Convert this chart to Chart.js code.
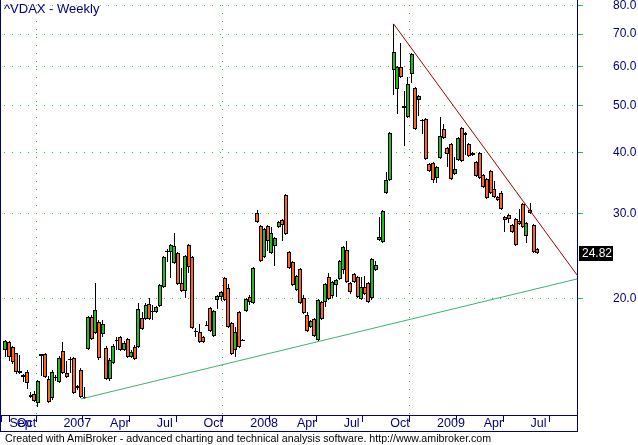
<!DOCTYPE html>
<html>
<head>
<meta charset="utf-8">
<script src="https://cdn.jsdelivr.net/npm/chart.js@4.4.1/dist/chart.umd.min.js"></script>
<style>
html,body{margin:0;padding:0;background:#fff;}
#wrap{position:relative;width:638px;height:445px;overflow:hidden;background:#fff;}
#c{position:absolute;left:0;top:0;}
#title{position:absolute;left:4px;top:1px;font-family:Arial,"Liberation Sans",sans-serif;font-size:13px;line-height:15px;color:#000080;white-space:nowrap;}
#footer{position:absolute;left:5px;top:432px;font-family:Arial,"Liberation Sans",sans-serif;font-size:10.65px;line-height:12px;color:#000;white-space:nowrap;}
</style>
</head>
<body>
<div id="wrap">
<canvas id="c" width="638" height="445"></canvas>
<div id="title">^VDAX - Weekly</div>
<div id="footer">Created with AmiBroker - advanced charting and technical analysis software. http://www.amibroker.com</div>
</div>
<script>
// ---- data (weekly bars, first bar = week ending 2006-09-22) ----
const firstWeek = '2006-09-22';
const openV = [15.72,16.31,15.94,15.49,14.20,13.93,14.16,12.70,12.76,12.22,15.30,15.41,13.70,12.52,13.83,13.51,15.64,14.10,15.00,15.13,
13.25,14.29,12.52,15.79,18.37,17.02,17.94,16.94,15.87,13.70,14.78,16.39,16.71,15.72,16.55,15.20,15.94,15.94,18.28,18.20,
19.54,18.85,18.80,19.36,21.17,25.05,24.98,23.72,24.86,21.57,20.80,25.83,24.40,17.22,17.10,16.71,17.72,19.16,16.78,19.91,
20.19,22.08,21.07,17.86,15.72,18.80,16.50,18.89,20.19,19.63,30.04,28.26,24.40,28.26,24.86,25.70,28.13,29.07,32.72,24.98,
23.82,20.87,23.05,20.10,18.54,17.52,18.20,16.47,19.72,19.72,22.19,20.29,21.37,21.98,22.95,25.22,21.57,22.52,22.19,20.00,
21.17,21.57,20.10,22.95,26.44,26.19,33.04,35.12,59.12,54.04,59.96,49.86,47.33,58.02,54.30,51.30,46.66,46.88,37.89,38.07,
35.46,38.98,44.72,40.87,41.65,36.14,38.62,44.93,43.47,41.65,39.52,38.25,39.90,35.96,35.29,36.65,33.66,32.41,33.02,29.49,
29.77,28.40,29.21,28.94,31.35,26.95,30.47,28.40,25.34];
const highV = [16.47,16.39,16.02,15.49,15.34,14.03,14.29,12.88,12.94,13.63,15.41,15.49,13.89,14.29,13.96,15.27,16.31,14.92,15.20,15.20,
13.32,14.43,13.19,18.46,18.50,21.57,18.11,18.11,16.02,15.13,16.16,16.71,16.78,16.39,16.63,15.72,16.09,19.63,18.80,19.63,
20.10,19.45,19.36,21.47,24.51,25.34,25.95,27.28,24.98,23.16,24.63,25.95,24.51,17.43,17.77,16.78,18.02,19.27,18.98,20.38,
20.78,22.19,21.47,17.94,17.52,18.89,16.55,20.10,20.38,23.28,30.47,28.40,28.00,28.40,28.13,26.82,28.95,29.21,32.87,25.10,
23.94,22.40,23.16,20.38,18.80,18.11,18.28,20.00,19.81,21.57,22.63,21.77,21.98,24.06,25.70,26.32,21.67,22.63,22.30,22.19,
22.30,21.67,24.28,23.94,29.48,30.47,36.48,44.09,73.51,60.25,67.18,53.53,57.20,64.07,54.55,52.53,46.88,47.11,38.07,38.25,
37.53,47.33,45.79,41.07,41.85,39.17,43.06,45.14,44.09,41.85,40.09,38.43,40.09,36.14,35.46,36.83,34.96,32.57,33.34,29.63,
29.91,28.53,29.35,30.62,31.50,28.81,31.50,28.53,25.46];
const lowV = [15.20,14.92,14.71,14.03,14.03,13.51,13.06,12.52,12.28,11.99,13.89,13.76,12.22,12.40,13.57,13.44,14.03,13.76,14.10,12.76,
13.00,12.52,12.46,15.72,16.47,16.94,14.99,16.71,13.63,13.57,14.71,15.72,15.64,15.64,15.13,15.13,14.99,15.87,17.27,18.11,
18.11,18.11,18.71,19.27,21.07,23.82,22.08,23.61,21.37,20.68,20.10,22.63,17.35,16.71,16.24,16.24,17.60,17.10,16.71,19.07,
19.81,19.81,17.43,15.34,15.20,15.87,16.39,18.80,19.45,19.54,28.67,23.82,24.28,25.10,24.75,23.39,27.99,26.32,27.08,23.05,
21.27,20.78,19.54,18.63,17.10,17.43,16.71,16.39,18.11,19.27,19.91,20.10,20.19,21.87,22.52,21.57,20.48,21.57,20.10,19.91,
20.38,19.63,19.91,22.84,26.32,26.07,32.87,34.96,52.53,48.00,56.93,41.26,47.11,55.60,44.51,47.55,43.68,38.62,36.48,34.63,
34.63,38.80,42.65,37.35,35.12,35.96,38.43,38.25,39.52,39.14,39.33,35.62,35.29,33.84,32.11,32.87,32.26,31.81,30.47,27.47,
28.67,27.34,25.70,28.40,27.99,26.07,29.91,24.86,24.70];
const closeV = [16.39,15.20,14.85,14.16,14.10,13.85,13.44,12.60,12.34,13.57,15.38,13.83,12.28,14.16,13.76,15.13,14.10,13.83,15.06,12.82,
13.13,12.58,12.58,18.37,16.55,18.98,15.13,17.77,13.70,14.99,16.02,16.47,15.72,16.24,15.20,15.57,15.06,19.07,17.35,19.45,
18.20,18.80,19.27,21.37,24.40,24.95,25.83,25.70,21.47,20.80,24.51,23.28,17.43,17.17,16.31,16.31,17.65,17.19,18.89,20.29,
20.68,19.91,17.52,15.41,17.10,15.94,16.45,20.00,19.72,23.16,28.81,23.94,27.86,26.32,27.34,26.70,28.81,28.40,27.21,23.16,
21.37,22.30,19.63,18.71,17.19,18.02,16.78,19.91,18.20,21.47,20.00,21.67,21.87,23.94,25.58,21.67,20.68,21.67,20.19,21.17,
20.48,19.72,24.17,23.50,26.82,30.33,35.12,43.88,64.37,59.96,57.20,49.39,55.34,63.77,44.72,52.28,46.44,38.80,36.65,35.12,
37.35,43.26,42.85,39.74,35.29,37.00,42.85,38.43,43.88,39.33,39.90,35.79,35.46,34.00,32.26,33.02,32.41,31.96,30.62,29.07,
29.21,27.47,25.83,28.53,28.13,28.67,30.04,24.98,24.82];
// trend lines: [bar index, value] anchors
const resistIdx = [108, 159.06];
const resistVal = [73.5, 22.4];
const supportIdx = [21, 159.06];
const supportVal = [12.46, 21.98];
// y axis
const yTicks = [20, 30, 40, 50, 60, 70, 80];
const yMin = 11.55, yMax = 82.26;
const monthNames = ['Jan','Feb','Mar','Apr','May','Jun','Jul','Aug','Sep','Oct','Nov','Dec'];

// ---- derived ----
const n = closeV.length;
const t0 = Date.parse(firstWeek + 'T00:00:00Z');
const dates = closeV.map((_, i) => new Date(t0 + i * 7 * 86400000));
const xTicks = [];
dates.forEach((d, i) => {
  const m = d.getUTCMonth();
  const prev = i > 0 ? dates[i - 1].getUTCMonth() : -1;
  if (i === 0 || (m !== prev && m % 3 === 0)) {
    xTicks.push({ i, label: m === 0 ? String(d.getUTCFullYear()) : monthNames[m], year: m === 0 && i > 0 });
  }
});
const tickByIdx = {};
xTicks.forEach(t => { tickByIdx[t.i] = t; });

const upColor = '#22bb22', downColor = '#ff6420';
const navy = '#000080';
const FONT = 'Arial, "Liberation Sans", sans-serif';

const wickData = closeV.map((c, i) => ({ x: i, y: [lowV[i], highV[i]] }));
const bodyData = closeV.map((c, i) => ({ x: i, y: [openV[i], c] }));
const bodyColors = closeV.map((c, i) => c >= openV[i] ? upColor : downColor);

// snap bar elements to whole pixels for crisp candles
const snapPlugin = {
  id: 'snap',
  beforeDatasetsDraw(chart) {
    chart.data.datasets.forEach((ds, di) => {
      const meta = chart.getDatasetMeta(di);
      if (meta.type !== 'bar') return;
      const even = Math.round(ds.barThickness) % 2 === 0;
      meta.data.forEach(el => {
        if (el._snapped) return;
        el.x = even ? Math.round(el.x) : Math.floor(el.x) + 0.5;
        const lo = Math.min(el.y, el.base), hi = Math.max(el.y, el.base);
        const t = Math.round(lo);
        const b = Math.max(Math.round(hi), t + 1);
        if (el.y <= el.base) { el.y = t; el.base = b; } else { el.y = b; el.base = t; }
        el._snapped = true;
      });
    });
  }
};

const framePlugin = {
  id: 'frame',
  afterDraw(chart) {
    const ctx = chart.ctx, a = chart.chartArea;
    ctx.save();
    ctx.fillStyle = navy;
    ctx.fillRect(0, 0, 1, 432);
    ctx.fillRect(0, a.bottom, a.right + 1, 1);
    ctx.fillRect(0, 431, a.right + 1, 1);
    ctx.fillRect(a.right, 0, 1, 432);
    const y = Math.round(chart.scales.y.getPixelForValue(closeV[n - 1]));
    ctx.fillStyle = '#000';
    ctx.fillRect(a.right + 2, y - 7, 34, 15);
    ctx.fillStyle = '#fff';
    ctx.font = '12px ' + FONT;
    ctx.textBaseline = 'middle';
    ctx.textAlign = 'left';
    ctx.fillText(closeV[n - 1].toFixed(2), a.right + 5, y + 1);
    ctx.restore();
  }
};

new Chart(document.getElementById('c'), {
  type: 'bar',
  data: {
    datasets: [
      { type: 'line', data: resistIdx.map((x, k) => ({ x, y: resistVal[k] })), borderColor: '#a00000', borderWidth: 1, pointRadius: 0, fill: false, tension: 0, order: 0 },
      { type: 'line', data: supportIdx.map((x, k) => ({ x, y: supportVal[k] })), borderColor: '#3cb371', borderWidth: 1, pointRadius: 0, fill: false, tension: 0, order: 0 },
      { type: 'bar', data: bodyData, backgroundColor: bodyColors, borderColor: '#000', borderWidth: 1, borderSkipped: false, barThickness: 4, grouped: false, inflateAmount: 0, order: 1 },
      { type: 'bar', data: wickData, backgroundColor: '#000', borderWidth: 0, barThickness: 1, grouped: false, inflateAmount: 0, order: 2 }
    ]
  },
  options: {
    responsive: false,
    animation: false,
    devicePixelRatio: 1,
    layout: { padding: { left: 1, top: 0, right: 0, bottom: 13 } },
    plugins: { legend: { display: false }, tooltip: { enabled: false }, title: { display: false } },
    scales: {
      x: {
        type: 'linear', min: -1.25, max: 159.06, offset: false,
        afterBuildTicks: s => { s.ticks = xTicks.map(t => ({ value: t.i })); },
        ticks: {
          autoSkip: false, maxRotation: 0, minRotation: 0, align: 'start', labelOffset: 4, padding: -6,
          color: navy, font: { family: FONT, size: 12.5 },
          callback: v => (tickByIdx[v] ? tickByIdx[v].label : '')
        },
        grid: {
          color: c => (c.tick && tickByIdx[c.tick.value] && tickByIdx[c.tick.value].year) ? '#3aa03a' : 'rgba(0,0,0,0)',
          lineWidth: 1, tickColor: navy, tickLength: 7
        },
        border: { display: false, dash: [1, 7], dashOffset: 3 },
        afterFit: s => { s.height = 17; s.paddingLeft = 0; s.paddingRight = 0; }
      },
      y: {
        type: 'logarithmic', position: 'right', min: yMin, max: yMax,
        afterBuildTicks: s => { s.ticks = yTicks.map(v => ({ value: v })); },
        ticks: { autoSkip: false, padding: 30, color: navy, font: { family: FONT, size: 12 }, callback: v => Number(v).toFixed(1) },
        grid: { color: '#22cc22', lineWidth: 1, tickColor: '#22cc22', tickLength: 6 },
        border: { display: false, dash: [1, 7], dashOffset: 5 },
        afterFit: s => { s.width = 61; s.paddingTop = 0; s.paddingBottom = 0; }
      }
    }
  },
  plugins: [snapPlugin, framePlugin]
});
</script>
</body>
</html>
